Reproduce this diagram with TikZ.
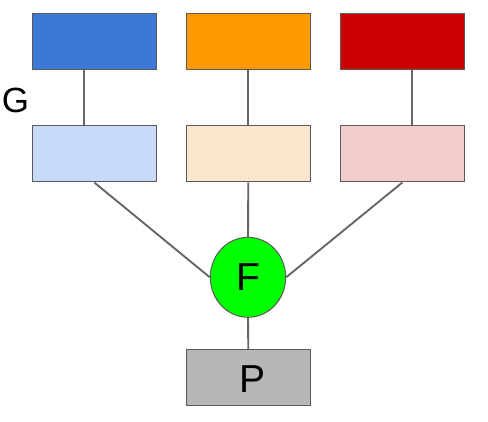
\documentclass[tikz,border=0pt]{standalone}
\usepackage{fontspec}
\setmainfont{Liberation Sans}
\usetikzlibrary{shapes.geometric}
\definecolor{cblue}{HTML}{3C78D8}
\definecolor{corange}{HTML}{FF9900}
\definecolor{cred}{HTML}{CC0000}
\definecolor{lblue}{HTML}{C9DAF8}
\definecolor{lorange}{HTML}{FCE5CD}
\definecolor{lred}{HTML}{F4CCCC}
\definecolor{cgreen}{HTML}{00FF00}
\definecolor{cgray}{HTML}{B7B7B7}
\definecolor{bord}{HTML}{595959}
\definecolor{conn}{HTML}{666666}
\tikzset{
  box/.style={draw=bord, line width=1pt, minimum width=124pt, minimum height=56pt, inner sep=0pt, rectangle},
  conline/.style={draw=conn, line width=1.9pt},
  bigtext/.style={font=\fontsize{39}{41}\selectfont, inner sep=0pt}
}
\begin{document}
\begin{tikzpicture}[x=1pt,y=-1pt]
\useasboundingbox (0,0) rectangle (488,422);
\node[box, fill=cblue] (b1) at (94.3,41.3) {};
\node[box, fill=corange] (b2) at (248.3,41.3) {};
\node[box, fill=cred] (b3) at (402.3,41.3) {};
\node[box, fill=lblue] (l1) at (94.3,154) {};
\node[box, fill=lorange] (l2) at (248.3,154) {};
\node[box, fill=lred] (l3) at (402.3,154) {};
\node[ellipse, draw=bord, line width=1pt, fill=cgreen, minimum width=75.4pt, minimum height=80pt, inner sep=0pt] (f) at (248,277.3) {};
\node[bigtext] (ft) at (248,277.3) {F};
\node[box, fill=cgray] (p) at (248.3,377.7) {};
\node[bigtext] (pt) at (253,378.8) {P};
\node[font=\fontsize{35}{37}\selectfont, inner sep=0pt] (g) at (15.5,100.5) {G};
\draw[conline] ([xshift=-10pt]b1.south) -- ([xshift=-10pt]l1.north);
\draw[conline] (b2.south) -- (l2.north);
\draw[conline] ([xshift=10pt]b3.south) -- ([xshift=10pt]l3.north);
\draw[conline] (l1.south) -- (f.west);
\draw[conline] (l2.south) -- (f.north);
\draw[conline] (l3.south) -- (f.east);
\draw[conline] (f.south) -- (p.north);
\end{tikzpicture}
\end{document}
